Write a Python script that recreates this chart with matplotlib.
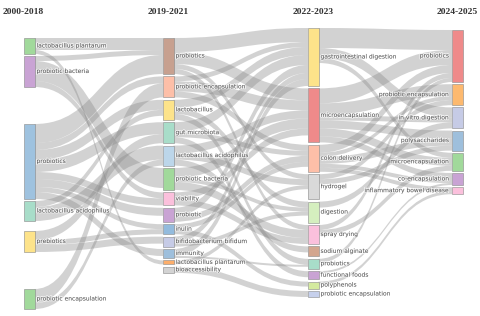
import matplotlib.pyplot as plt
from matplotlib.path import Path
from matplotlib.patches import PathPatch, Rectangle
import matplotlib.patheffects as pe

# ---- data -------------------------------------------------------------
periods = ['2000-2018', '2019-2021', '2022-2023', '2024-2025']

nodes_0 = ['lactobacillus plantarum', 'probiotic bacteria', 'probiotics',
           'lactobacillus acidophilus', 'prebiotics', 'probiotic encapsulation']
sizes_0 = [16, 31, 75, 20, 21, 20]

nodes_1 = ['probiotics', 'probiotic encapsulation', 'lactobacillus', 'gut microbiota',
           'lactobacillus acidophilus', 'probiotic bacteria', 'viability', 'probiotic',
           'inulin', 'bifidobacterium bifidum', 'immunity', 'lactobacillus plantarum',
           'bioaccessibility']
sizes_1 = [36, 21, 20, 21, 20, 22, 13, 14, 10, 10, 9, 4, 6]

nodes_2 = ['gastrointestinal digestion', 'microencapsulation', 'colon delivery', 'hydrogel',
           'digestion', 'spray drying', 'sodium alginate', 'probiotics', 'functional foods',
           'polyphenols', 'probiotic encapsulation']
sizes_2 = [58, 54, 27, 25, 21, 19, 10, 10, 8, 7, 6]

nodes_3 = ['probiotics', 'probiotic encapsulation', 'in vitro digestion', 'polysaccharides',
           'microencapsulation', 'co-encapsulation', 'inflammatory bowel disease']
sizes_3 = [52, 21, 21, 20, 18, 12, 7]

links_01 = [
    ('lactobacillus plantarum', 'probiotics', 12),
    ('lactobacillus plantarum', 'lactobacillus plantarum', 4),
    ('probiotic bacteria', 'probiotics', 5),
    ('probiotic bacteria', 'probiotic bacteria', 20),
    ('probiotic bacteria', 'viability', 6),
    ('probiotics', 'probiotics', 19),
    ('probiotics', 'probiotic encapsulation', 7),
    ('probiotics', 'lactobacillus', 10),
    ('probiotics', 'gut microbiota', 12),
    ('probiotics', 'viability', 7),
    ('probiotics', 'probiotic', 8),
    ('probiotics', 'inulin', 5),
    ('probiotics', 'immunity', 7),
    ('lactobacillus acidophilus', 'lactobacillus acidophilus', 14),
    ('lactobacillus acidophilus', 'lactobacillus', 6),
    ('prebiotics', 'inulin', 5),
    ('prebiotics', 'gut microbiota', 9),
    ('prebiotics', 'bifidobacterium bifidum', 7),
    ('probiotic encapsulation', 'probiotic encapsulation', 14),
    ('probiotic encapsulation', 'lactobacillus acidophilus', 6),
]

links_12 = [
    ('probiotics', 'gastrointestinal digestion', 14),
    ('probiotics', 'microencapsulation', 12),
    ('probiotics', 'hydrogel', 5),
    ('probiotics', 'spray drying', 5),
    ('probiotic encapsulation', 'gastrointestinal digestion', 5),
    ('probiotic encapsulation', 'microencapsulation', 10),
    ('probiotic encapsulation', 'colon delivery', 6),
    ('lactobacillus', 'gastrointestinal digestion', 8),
    ('lactobacillus', 'digestion', 6),
    ('lactobacillus', 'probiotics', 6),
    ('gut microbiota', 'gastrointestinal digestion', 10),
    ('gut microbiota', 'colon delivery', 5),
    ('gut microbiota', 'functional foods', 6),
    ('lactobacillus acidophilus', 'microencapsulation', 8),
    ('lactobacillus acidophilus', 'hydrogel', 6),
    ('lactobacillus acidophilus', 'sodium alginate', 6),
    ('probiotic bacteria', 'microencapsulation', 10),
    ('probiotic bacteria', 'spray drying', 8),
    ('probiotic bacteria', 'digestion', 4),
    ('viability', 'microencapsulation', 7),
    ('viability', 'spray drying', 6),
    ('probiotic', 'gastrointestinal digestion', 8),
    ('probiotic', 'colon delivery', 6),
    ('inulin', 'colon delivery', 5),
    ('inulin', 'polyphenols', 5),
    ('bifidobacterium bifidum', 'gastrointestinal digestion', 6),
    ('bifidobacterium bifidum', 'digestion', 4),
    ('immunity', 'gastrointestinal digestion', 7),
    ('immunity', 'probiotics', 2),
    ('lactobacillus plantarum', 'hydrogel', 4),
    ('bioaccessibility', 'probiotic encapsulation', 6),
]

links_23 = [
    ('gastrointestinal digestion', 'probiotics', 20),
    ('gastrointestinal digestion', 'in vitro digestion', 10),
    ('gastrointestinal digestion', 'microencapsulation', 5),
    ('microencapsulation', 'probiotics', 15),
    ('microencapsulation', 'probiotic encapsulation', 12),
    ('microencapsulation', 'in vitro digestion', 5),
    ('microencapsulation', 'polysaccharides', 8),
    ('microencapsulation', 'microencapsulation', 8),
    ('microencapsulation', 'co-encapsulation', 6),
    ('colon delivery', 'probiotics', 8),
    ('colon delivery', 'probiotic encapsulation', 4),
    ('colon delivery', 'polysaccharides', 7),
    ('colon delivery', 'co-encapsulation', 4),
    ('colon delivery', 'inflammatory bowel disease', 4),
    ('hydrogel', 'probiotic encapsulation', 5),
    ('hydrogel', 'polysaccharides', 5),
    ('digestion', 'in vitro digestion', 6),
    ('spray drying', 'probiotics', 5),
    ('spray drying', 'microencapsulation', 5),
    ('probiotics', 'probiotics', 4),
    ('functional foods', 'co-encapsulation', 2),
    ('polyphenols', 'inflammatory bowel disease', 3),
]

# ---- style / layout ---------------------------------------------------
colors_0 = ['#a1d99b', '#c9a3d4', '#9ec2df', '#a8ddc9', '#fde38a', '#a1d99b']
colors_1 = ['#c7a08f', '#fdbfa8', '#fde38a', '#a8ddc9', '#bcd6ea', '#a1d99b', '#fbc0dc',
            '#c9a3d4', '#93bbdd', '#c6cbe6', '#9ebfdc', '#fdae6b', '#d3d3d3']
colors_2 = ['#fde38a', '#ef8a8a', '#fdbfa8', '#d9d9d9', '#d5efbf', '#fbc0dc', '#d3a68f',
            '#a8ddc9', '#c9a3d4', '#d4eb9f', '#c6d0ec']
colors_3 = ['#ef8a8a', '#fdb96f', '#c6cbe6', '#9ebfdc', '#a1d99b', '#c9a3d4', '#fbc0dc']

columns = [nodes_0, nodes_1, nodes_2, nodes_3]
sizes = [sizes_0, sizes_1, sizes_2, sizes_3]
colors = [colors_0, colors_1, colors_2, colors_3]
links = [links_01, links_12, links_23]

col_x = [24, 163, 308, 452]
node_w = 10.5
col_top = [38, 38, 28, 30]
col_pad = [2, 2.4, 2.4, 2.2]
extra_gap = {(0, 2): 35, (0, 4): 8, (0, 5): 35}

# node vertical positions, stacked per column
node_y = []
for c, sz in enumerate(sizes):
    ys = []
    y = col_top[c]
    for i, s in enumerate(sz):
        y += extra_gap.get((c, i), 0)
        ys.append(y)
        y += s + col_pad[c]
    node_y.append(ys)

fig = plt.figure(figsize=(4.8, 3.16), dpi=100)
ax = fig.add_axes([0, 0, 1, 1])
ax.set_xlim(0, 480)
ax.set_ylim(316, 0)
ax.axis('off')

# links
for c, lk in enumerate(links):
    src_names, tgt_names = columns[c], columns[c + 1]
    idx = [(src_names.index(s), tgt_names.index(t), v) for s, t, v in lk]
    out_off = {}
    in_off = {}
    # order outgoing by target position, incoming by source position
    for k in sorted(range(len(idx)), key=lambda k: (idx[k][0], node_y[c + 1][idx[k][1]])):
        si, ti, v = idx[k]
        out_off[k] = out_off.get(('s', si), 0)
        out_off[('s', si)] = out_off[k] + v
    for k in sorted(range(len(idx)), key=lambda k: (idx[k][1], node_y[c][idx[k][0]])):
        si, ti, v = idx[k]
        in_off[k] = in_off.get(('t', ti), 0)
        in_off[('t', ti)] = in_off[k] + v
    x0 = col_x[c] + node_w
    x1 = col_x[c + 1]
    xm = (x0 + x1) / 2
    for k, (si, ti, v) in enumerate(idx):
        y0 = node_y[c][si] + out_off[k]
        y1 = node_y[c + 1][ti] + in_off[k]
        verts = [(x0, y0), (xm, y0), (xm, y1), (x1, y1),
                 (x1, y1 + v), (xm, y1 + v), (xm, y0 + v), (x0, y0 + v), (x0, y0)]
        codes = [Path.MOVETO, Path.CURVE4, Path.CURVE4, Path.CURVE4,
                 Path.LINETO, Path.CURVE4, Path.CURVE4, Path.CURVE4, Path.CLOSEPOLY]
        ax.add_patch(PathPatch(Path(verts, codes), facecolor='#8a8a8a', edgecolor='none',
                               alpha=0.38, zorder=1))

# nodes and labels
halo = [pe.withStroke(linewidth=1.2, foreground='white', alpha=0.7)]
for c in range(4):
    for i, name in enumerate(columns[c]):
        y = node_y[c][i]
        h = sizes[c][i]
        ax.add_patch(Rectangle((col_x[c], y), node_w, h, facecolor=colors[c][i],
                               edgecolor='#888888', linewidth=0.4, zorder=3))
        if c < 3:
            ax.text(col_x[c] + node_w + 2, y + h / 2, name, ha='left', va='center',
                    fontsize=4.3, color='#555555', zorder=4, path_effects=halo)
        else:
            ax.text(col_x[c] - 2.5, y + h / 2, name, ha='right', va='center',
                    fontsize=4.3, color='#555555', zorder=4, path_effects=halo)

for c, p in enumerate(periods):
    if c == 0:
        ax.text(3, 12, p, ha='left', va='center', fontsize=6.8, fontweight='bold',
                family='Liberation Serif', color='#333333')
    else:
        ax.text(col_x[c] + node_w / 2, 12, p, ha='center', va='center', fontsize=6.8,
                fontweight='bold', family='Liberation Serif', color='#333333')

fig.savefig('out.png', dpi=100)
